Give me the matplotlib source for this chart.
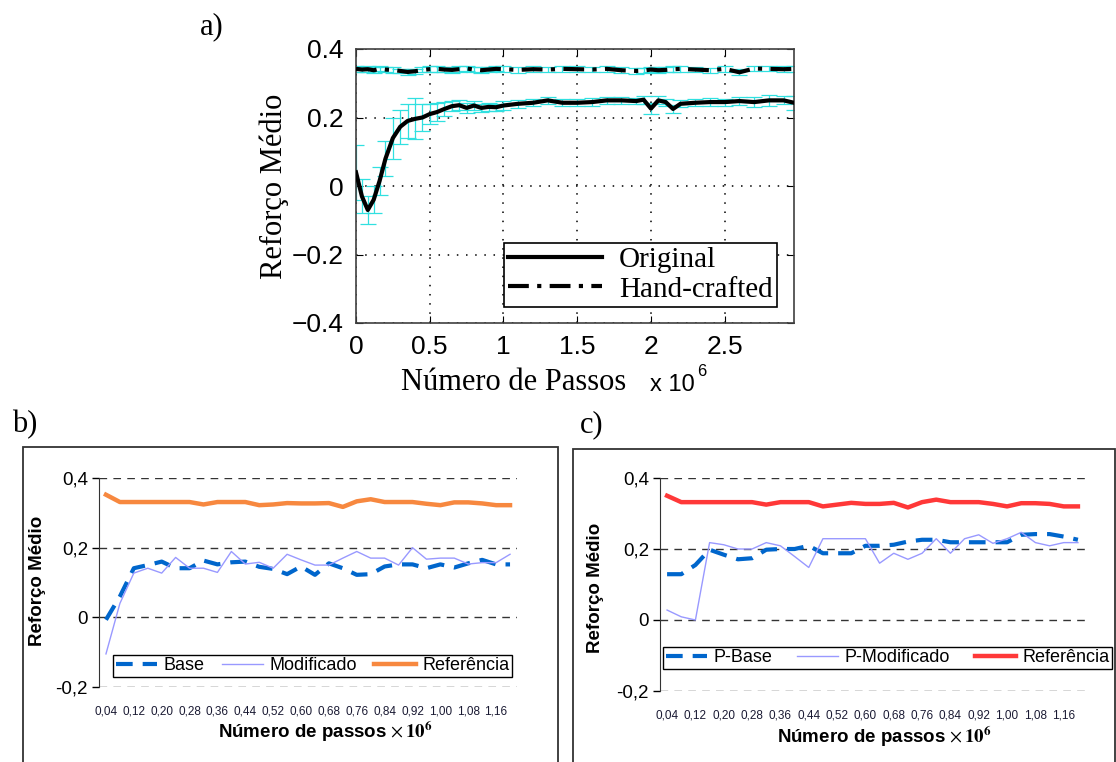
import matplotlib
matplotlib.use("Agg")
import matplotlib.pyplot as plt
from matplotlib.patches import Rectangle

plt.rcParams["mathtext.fontset"] = "stix"

# ---------------- panel a data (x in 10^6 steps) ----------------
passos_a = [0.0, 0.04, 0.08, 0.12, 0.16, 0.20, 0.25, 0.30, 0.35, 0.40,
            0.45, 0.50, 0.55, 0.60, 0.65, 0.70, 0.75, 0.80, 0.85, 0.90,
            0.95, 1.00, 1.10, 1.20, 1.30, 1.40, 1.50, 1.60, 1.70, 1.80,
            1.90, 1.95, 2.00, 2.05, 2.10, 2.15, 2.20, 2.30, 2.40, 2.50,
            2.60, 2.70, 2.80, 2.90, 2.97]
original = [0.04, -0.03, -0.07, -0.04, 0.015, 0.08, 0.14, 0.173, 0.19, 0.196,
            0.20, 0.21, 0.216, 0.225, 0.233, 0.236, 0.228, 0.235, 0.228, 0.231,
            0.23, 0.235, 0.24, 0.243, 0.25, 0.243, 0.243, 0.245, 0.25, 0.25,
            0.248, 0.252, 0.226, 0.25, 0.245, 0.225, 0.24, 0.243, 0.245, 0.245,
            0.248, 0.245, 0.25, 0.25, 0.243]
err_original = [0.08, 0.05, 0.04, 0.04, 0.04, 0.05, 0.06, 0.05, 0.05, 0.06,
                0.04, 0.03, 0.025, 0.02, 0.015, 0.015, 0.015, 0.012, 0.012, 0.012,
                0.01, 0.012, 0.012, 0.01, 0.01, 0.01, 0.01, 0.012, 0.01, 0.01,
                0.01, 0.012, 0.015, 0.012, 0.01, 0.012, 0.01, 0.01, 0.012, 0.01,
                0.012, 0.015, 0.015, 0.012, 0.02]
hand_crafted = [0.342, 0.340, 0.341, 0.338, 0.342, 0.340, 0.339, 0.336, 0.333, 0.335,
                0.339, 0.341, 0.342, 0.340, 0.339, 0.341, 0.343, 0.340, 0.338, 0.340,
                0.342, 0.341, 0.339, 0.341, 0.340, 0.342, 0.341, 0.340, 0.342, 0.338,
                0.336, 0.337, 0.340, 0.338, 0.339, 0.341, 0.342, 0.340, 0.338, 0.342,
                0.332, 0.343, 0.342, 0.341, 0.342]
err_hand = [0.008, 0.007, 0.008, 0.009, 0.007, 0.008, 0.008, 0.007, 0.009, 0.008,
            0.007, 0.008, 0.008, 0.007, 0.008, 0.009, 0.008, 0.007, 0.008, 0.008,
            0.007, 0.008, 0.009, 0.008, 0.007, 0.008, 0.008, 0.007, 0.008, 0.009,
            0.008, 0.007, 0.008, 0.008, 0.007, 0.008, 0.009, 0.008, 0.007, 0.008,
            0.009, 0.008, 0.007, 0.008, 0.008]

# ---------------- panels b / c data ----------------
passos = ["0,04", "0,08", "0,12", "0,16", "0,20", "0,24", "0,28", "0,32", "0,36", "0,40",
          "0,44", "0,48", "0,52", "0,56", "0,60", "0,64", "0,68", "0,72", "0,76", "0,80",
          "0,84", "0,88", "0,92", "0,96", "1,00", "1,04", "1,08", "1,12", "1,16", "1,20"]

base_b = [-0.007, 0.06, 0.141, 0.15, 0.16, 0.141, 0.141, 0.163, 0.152, 0.158,
          0.16, 0.145, 0.139, 0.124, 0.146, 0.122, 0.155, 0.141, 0.122, 0.124,
          0.146, 0.152, 0.152, 0.141, 0.152, 0.143, 0.155, 0.165, 0.152, 0.152]
modif_b = [-0.105, 0.04, 0.127, 0.141, 0.127, 0.172, 0.141, 0.141, 0.129, 0.189,
           0.153, 0.158, 0.141, 0.181, 0.165, 0.15, 0.15, 0.17, 0.189, 0.17,
           0.17, 0.15, 0.2, 0.167, 0.17, 0.17, 0.153, 0.157, 0.157, 0.181]
ref_b = [0.352, 0.331, 0.331, 0.331, 0.331, 0.331, 0.331, 0.324, 0.331, 0.331,
         0.331, 0.322, 0.324, 0.328, 0.327, 0.327, 0.328, 0.317, 0.333, 0.339,
         0.331, 0.331, 0.331, 0.326, 0.322, 0.33, 0.33, 0.327, 0.322, 0.322]

pbase_c = [0.129, 0.129, 0.155, 0.198, 0.184, 0.171, 0.174, 0.198, 0.2, 0.2,
           0.209, 0.188, 0.188, 0.188, 0.209, 0.209, 0.212, 0.221, 0.226, 0.226,
           0.219, 0.219, 0.219, 0.219, 0.219, 0.24, 0.242, 0.242, 0.235, 0.226]
pmodif_c = [0.028, 0.009, 0.0, 0.218, 0.212, 0.2, 0.2, 0.218, 0.209, 0.179,
            0.148, 0.229, 0.229, 0.229, 0.229, 0.16, 0.188, 0.171, 0.188, 0.229,
            0.188, 0.229, 0.24, 0.216, 0.229, 0.247, 0.218, 0.209, 0.218, 0.218]
ref_c = [0.35, 0.332, 0.332, 0.332, 0.332, 0.332, 0.332, 0.325, 0.332, 0.332,
         0.332, 0.32, 0.325, 0.33, 0.327, 0.327, 0.33, 0.317, 0.332, 0.339,
         0.332, 0.332, 0.332, 0.327, 0.32, 0.329, 0.329, 0.327, 0.32, 0.32]

W, H = 1116, 762
SANS = "Liberation Sans"
SERIF = "Liberation Serif"
NARROW = ["Liberation Sans Narrow", "Liberation Sans"]


def px_axes(left, top, right, bottom):
    return [left / W, 1 - bottom / H, (right - left) / W, (bottom - top) / H]


fig = plt.figure(figsize=(W / 100, H / 100), dpi=100)

# ----------------------------------------------------
# Panel a: MATLAB-style line plot with error bars
# ----------------------------------------------------
ax = fig.add_axes(px_axes(356, 49, 794, 323))
cyan = "#30E0E0"
ax.errorbar(passos_a, hand_crafted, yerr=err_hand, fmt="none", ecolor=cyan,
            elinewidth=0.9, capsize=6, capthick=0.9, zorder=2)
ax.errorbar(passos_a, original, yerr=err_original, fmt="none", ecolor=cyan,
            elinewidth=0.9, capsize=6, capthick=0.9, zorder=2)
ax.plot(passos_a, original, color="black", lw=3, label="Original", zorder=3)
ax.plot(passos_a, hand_crafted, color="black", lw=3, ls=(0, (5, 2, 1, 2)),
        label="Hand-crafted", zorder=3)
ax.set_xlim(0, 2.97)
ax.set_ylim(-0.4, 0.4)
ax.set_xticks([0, 0.5, 1, 1.5, 2, 2.5])
ax.set_xticklabels(["0", "0.5", "1", "1.5", "2", "2.5"])
ax.set_yticks([-0.4, -0.2, 0, 0.2, 0.4])
ax.set_yticklabels(["\u22120.4", "\u22120.2", "0", "0.2", "0.4"])
ax.tick_params(direction="in", top=True, right=True, length=5, width=0.8,
               labelsize=19, pad=9)
for lab in ax.get_xticklabels() + ax.get_yticklabels():
    lab.set_family(SANS)
ax.grid(True, color="black", ls=(0, (1, 5)), lw=1.1)
for sp in ax.spines.values():
    sp.set_color("#404040")
    sp.set_linewidth(1.2)
leg = ax.legend(loc="lower right", bbox_to_anchor=(0.995, 0.005),
                prop={"family": SERIF, "size": 21}, frameon=True, fancybox=False,
                edgecolor="black", framealpha=1, borderpad=0.15,
                labelspacing=0.1, handlelength=3.2, handletextpad=0.6)
leg.get_frame().set_linewidth(1.2)
ax.set_ylabel("Reforço Médio", family=SERIF, fontsize=22, labelpad=2)
fig.text(514 / W, 1 - 383 / H, "Número de Passos", family=SERIF, fontsize=22,
         ha="center", va="center")
fig.text(650 / W, 1 - 385 / H, "x 10", family=SANS, fontsize=17,
         ha="left", va="center")
fig.text(697 / W, 1 - 371 / H, "6", family=SANS, fontsize=12,
         ha="left", va="center")
fig.text(200 / W, 1 - 27 / H, "a)", family=SERIF, fontsize=22, ha="left",
         va="center")


# ----------------------------------------------------
# Panels b and c: Excel-style line charts
# ----------------------------------------------------
def excel_panel(rect, base, modif, ref, names, ref_color, leg_box):
    ax = fig.add_axes(rect)
    idx = list(range(len(passos)))
    ax.plot(idx, base, color="#0066CC", lw=3, ls=(0, (4, 2.4)), label=names[0],
            zorder=3)
    ax.plot(idx, modif, color="#9999FF", lw=1, label=names[1], zorder=3)
    ax.plot(idx, ref, color=ref_color, lw=3.2, label=names[2], zorder=3)
    ax.set_xlim(-0.5, len(passos) - 0.5)
    ax.set_ylim(-0.2, 0.4)
    ax.set_yticks([-0.2, 0, 0.2, 0.4])
    ax.set_yticklabels(["-0,2", "0", "0,2", "0,4"])
    ax.set_xticks(idx[::2])
    ax.set_xticklabels(passos[::2])
    for y in [-0.2, 0, 0.2, 0.4]:
        ax.axhline(y, color="#333333", lw=1, ls=(0, (5.5, 4.5)), zorder=1)
    for sp in ["top", "right", "bottom"]:
        ax.spines[sp].set_visible(False)
    ax.spines["left"].set_color("#333333")
    ax.tick_params(axis="y", direction="out", length=5, width=1, labelsize=13.5,
                   pad=3)
    ax.tick_params(axis="x", length=0, labelsize=8.5, pad=13, colors="#1a1a33")
    for lab in ax.get_yticklabels():
        lab.set_family(SANS)
    for lab in ax.get_xticklabels():
        lab.set_family(NARROW)
    leg = ax.legend(loc="lower left", bbox_to_anchor=leg_box, mode="expand",
                    ncol=3, prop={"family": SANS, "size": 13}, frameon=True,
                    fancybox=False, edgecolor="black", framealpha=1,
                    borderpad=0.15, handlelength=2.3, handletextpad=0.35,
                    columnspacing=1.0, borderaxespad=0)
    leg.get_frame().set_linewidth(1)
    return ax


excel_panel(px_axes(99, 478, 517, 687), base_b, modif_b, ref_b,
            ["Base", "Modificado", "Referência"], "#F7883F",
            (0.033, 0.048, 0.955, 0.12))
excel_panel(px_axes(660, 478, 1085, 691), pbase_c, pmodif_c, ref_c,
            ["P-Base", "P-Modificado", "Referência"], "#FF3838",
            (0.007, 0.103, 1.057, 0.122))

for x0, x1, top in [(23, 558, 447), (573, 1115, 449)]:
    fig.patches.append(Rectangle((x0 / W, -0.02), (x1 - x0) / W, (H - top) / H + 0.02,
                                 transform=fig.transFigure, fill=False,
                                 edgecolor="#333333", lw=1.3))

fig.text(12 / W, 1 - 425 / H, "b)", family=SERIF, fontsize=22, ha="left",
         va="center")
fig.text(580 / W, 1 - 425 / H, "c)", family=SERIF, fontsize=22, ha="left",
         va="center")

for cx, cy in [(38, 581), (595, 588)]:
    fig.text(cx / W, 1 - cy / H, "Reforço Médio", family=SANS, fontweight="bold",
             fontsize=13.5, rotation=90, ha="center", va="center")

for cx, cy in [(325, 732), (884, 737)]:
    fig.text(cx / W, 1 - cy / H,
             r"Número de passos $\times\,\mathbf{10^{6}}$",
             family=SANS, fontweight="bold", fontsize=13.5, ha="center",
             va="center")

fig.savefig("out.png", dpi=100)
